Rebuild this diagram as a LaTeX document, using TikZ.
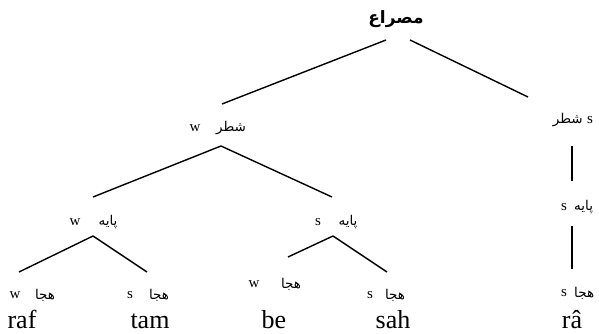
\documentclass[tikz,border=0pt]{standalone}
\usepackage{fontspec}
\setmainfont{Liberation Serif}
\newfontfamily\arabicfont[Script=Arabic]{DejaVu Sans}
\TeXXeTstate=1
\tikzset{
 lat/.style={inner sep=0pt, font=\fontsize{15}{15}\selectfont},
 ar/.style={inner sep=0pt, font=\arabicfont\fontsize{13.5}{13.5}\selectfont},
 rootlbl/.style={inner sep=0pt, font=\arabicfont\bfseries\fontsize{17}{17}\selectfont},
 word/.style={inner sep=0pt, anchor=base, font=\fontsize{26}{26}\selectfont},
 edge/.style={line width=1.4pt}
}
\begin{document}
\begin{tikzpicture}[x=1pt,y=-1pt]
\useasboundingbox (0,0) rectangle (599,334);
\clip (0,0) rectangle (599,334);
% root
\node[rootlbl] (root) at (396,19) {\beginR مصراع\endR};
% level 1
\node[lat] (s1l) at (195,128) {w};
\node[ar] (s1a) at (231,128) {\beginR شطر\endR};
\node[ar, anchor=east] (s2a) at (583,120) {\beginR شطر\endR};
\node[lat] (s2l) at (590,120) {s};
% level 2
\node[lat] (p1l) at (75,222) {w};
\node[ar] (p1a) at (108,222) {\beginR پایه\endR};
\node[lat] (p2l) at (318,222) {s};
\node[ar] (p2a) at (348,222) {\beginR پایه\endR};
\node[lat] (p3l) at (564,207) {s};
\node[ar, anchor=west] (p3a) at (574,207) {\beginR پایه\endR};
% level 3
\node[lat] (h1l) at (15,295) {w};
\node[ar] (h1a) at (45,295) {\beginR هجا\endR};
\node[lat] (h2l) at (130,295) {s};
\node[ar] (h2a) at (159,295) {\beginR هجا\endR};
\node[lat] (h3l) at (254,284) {w};
\node[ar] (h3a) at (291,284) {\beginR هجا\endR};
\node[lat] (h4l) at (370,295) {s};
\node[ar] (h4a) at (395,295) {\beginR هجا\endR};
\node[lat] (h5l) at (564,293) {s};
\node[ar, anchor=west] (h5a) at (574,293) {\beginR هجا\endR};
% words
\node[word] (w1) at (22,328) {raf};
\node[word] (w2) at (150,328) {tam};
\node[word] (w3) at (274,328) {be};
\node[word] (w4) at (393,328) {sah};
\node[word] (w5) at (572,328) {râ};
% connector points
\coordinate (rootL) at (386,40);
\coordinate (rootR) at (410,40);
\coordinate (s1top) at (222,104);
\coordinate (s2top) at (528,97);
\coordinate (s1bot) at (221,146);
\coordinate (p1top) at (93,197);
\coordinate (p2top) at (332,197);
\coordinate (s2bot) at (572,146);
\coordinate (p3top) at (572,181);
\coordinate (p1bot) at (93,236);
\coordinate (h1top) at (19,272);
\coordinate (h2top) at (147,272);
\coordinate (p2bot) at (333,236);
\coordinate (h3top) at (288,257);
\coordinate (h4top) at (387,272);
\coordinate (p3bot) at (572,226);
\coordinate (h5top) at (572,269);
% connectors
\draw[edge] (rootL) -- (s1top);
\draw[edge] (rootR) -- (s2top);
\draw[edge] (s1bot) -- (p1top);
\draw[edge] (s1bot) -- (p2top);
\draw[edge] (s2bot) -- (p3top);
\draw[edge] (p1bot) -- (h1top);
\draw[edge] (p1bot) -- (h2top);
\draw[edge] (p2bot) -- (h3top);
\draw[edge] (p2bot) -- (h4top);
\draw[edge] (p3bot) -- (h5top);
\end{tikzpicture}
\end{document}
